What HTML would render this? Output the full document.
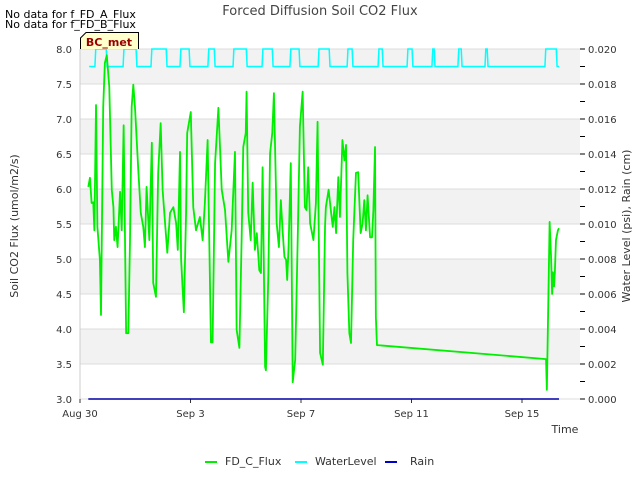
<!DOCTYPE html>
<html><head><meta charset="utf-8"><style>
body{margin:0;background:#fff;font-family:"Liberation Sans","DejaVu Sans",sans-serif}
svg text{font-family:"DejaVu Sans","Liberation Sans",sans-serif}
</style></head><body>
<svg id="c" width="640" height="480" xmlns="http://www.w3.org/2000/svg"></svg>
<script>
const fluxDays=[0.30,0.36,0.42,0.48,0.52,0.58,0.63,0.72,0.76,0.84,0.90,0.97,1.06,1.15,1.21,1.24,1.30,1.36,1.45,1.51,1.58,1.67,1.75,1.81,1.87,1.93,1.99,2.11,2.20,2.29,2.35,2.41,2.51,2.60,2.65,2.75,2.83,2.92,2.99,3.08,3.16,3.26,3.38,3.48,3.54,3.62,3.66,3.76,3.84,3.88,4.01,4.10,4.20,4.34,4.44,4.52,4.62,4.74,4.80,4.89,5.01,5.13,5.25,5.37,5.49,5.61,5.67,5.77,5.85,5.91,6.00,6.03,6.09,6.18,6.25,6.33,6.40,6.49,6.55,6.61,6.70,6.73,6.82,6.88,6.96,7.02,7.12,7.20,7.27,7.34,7.40,7.46,7.50,7.55,7.63,7.70,7.79,7.88,7.96,8.06,8.14,8.20,8.26,8.33,8.45,8.54,8.60,8.69,8.79,8.87,8.90,9.00,9.09,9.15,9.21,9.27,9.35,9.41,9.50,9.57,9.63,9.68,9.75,9.81,9.89,9.99,10.07,10.16,10.23,10.29,10.35,10.41,10.50,10.57,10.62,10.68,10.71,10.75,16.87,16.90,17.00,17.05,17.09,17.12,17.16,17.19,17.23,17.30,17.34];
const fluxValues=[6.03,6.16,5.80,5.81,5.41,7.20,5.46,4.99,4.20,7.17,7.80,7.91,7.46,5.99,5.74,5.27,5.46,5.17,5.96,5.41,6.91,3.94,3.94,5.27,7.17,7.49,7.17,6.27,5.66,5.46,5.17,6.03,5.27,6.66,4.66,4.46,6.23,6.94,5.99,5.51,5.09,5.66,5.74,5.51,5.13,6.53,4.99,4.24,5.66,6.80,7.10,5.74,5.41,5.60,5.27,5.80,6.70,3.81,3.81,6.37,7.16,5.99,5.70,4.96,5.41,6.53,3.99,3.73,5.27,6.60,6.80,7.39,5.66,5.27,6.09,5.13,5.37,4.84,4.80,6.31,3.46,3.41,4.80,6.51,6.80,7.37,5.51,5.17,5.84,5.37,5.03,4.99,4.70,5.17,6.37,3.24,3.56,5.27,6.89,7.39,5.74,5.70,6.31,5.51,5.27,5.80,6.96,3.66,3.49,5.46,5.74,5.99,5.66,5.46,5.74,5.37,6.17,5.60,6.70,6.41,6.63,4.80,3.94,3.80,5.27,6.23,6.24,5.37,5.51,5.84,5.41,5.91,5.31,5.31,5.70,6.60,4.17,3.77,3.57,3.13,5.53,5.05,4.50,4.81,4.61,4.81,5.27,5.41,5.44];
const waterHighStart=[0.54,1.56,2.57,3.62,4.63,5.54,6.59,7.60,8.62,9.67,10.79,11.84,12.74,13.68,14.66,16.83];
const waterHighEnd=[0.98,2.06,3.15,3.98,4.89,6.05,6.99,7.96,9.05,9.88,10.97,12.05,12.85,13.83,14.77,17.27];
const waterLow=0.019, waterHigh=0.020, waterStart=0.33, waterEnd=17.34;
const rainDays=[0.30,17.34], rainValues=[0,0];
const leftTicks=[3.0,3.5,4.0,4.5,5.0,5.5,6.0,6.5,7.0,7.5,8.0];
const rightTicks=[0,0.002,0.004,0.006,0.008,0.010,0.012,0.014,0.016,0.018,0.020];
const xTickDays=[0,4,8,12,16];
const xTickLabels=["Aug 30","Sep 3","Sep 7","Sep 11","Sep 15"];

const L=80,R=580,T=49,B=399;
const xs=d=>L+d*27.625;
const yl=v=>B-(v-3)/5*(B-T);
const yr=v=>B-v/0.02*(B-T);
const svg=document.getElementById('c');
const NS='http://www.w3.org/2000/svg';
function mk(tag,attrs,parent){const e=document.createElementNS(NS,tag);for(const k in attrs)e.setAttribute(k,attrs[k]);(parent||svg).appendChild(e);return e;}

// bands
for(let i=0;i<leftTicks.length-1;i++){
  const v0=leftTicks[i],v1=leftTicks[i+1];
  const r=mk('rect',{x:L,y:yl(v1),width:R-L,height:yl(v0)-yl(v1),fill:(i%2==1)?'#f2f2f2':'#ffffff'});
  
  
}
leftTicks.forEach(v=>{
  const g=mk('line',{x1:L,x2:R,y1:yl(v),y2:yl(v),stroke:'#dcdcdc','stroke-width':1});
  
  
  const t=mk('text',{x:L-8,y:yl(v)+4,'text-anchor':'end','font-size':10,fill:'#333'});
  t.textContent=v.toFixed(1);
  
  
});
mk('line',{x1:L,x2:L,y1:T,y2:B,stroke:'#ccc'});
rightTicks.forEach(v=>{
  const tk=mk('line',{x1:R,x2:R+5,y1:yr(v),y2:yr(v),stroke:'#000'});
  
  
  const t=mk('text',{x:R+8,y:yr(v)+4,'font-size':10,fill:'#333'});
  t.textContent=v.toFixed(3);
  
  
});
for(let i=0;i<rightTicks.length-1;i++){
  const v=(rightTicks[i]+rightTicks[i+1])/2;
  const tk=mk('line',{x1:R,x2:R+5,y1:yr(v),y2:yr(v),stroke:'#000'});
  
  
}
xTickDays.forEach((d,i)=>{
  const tk=mk('line',{x1:xs(d),x2:xs(d),y1:B,y2:B+4,stroke:'#333'});
  
  
  const t=mk('text',{x:xs(d),y:B+18,'text-anchor':'middle','font-size':10,fill:'#333'});
  t.textContent=xTickLabels[i];
  
  
});

// water level
let wp=[[waterStart,waterLow]];
waterHighStart.forEach((s,i)=>{const e=waterHighEnd[i];wp.push([s,waterLow],[s+0.03,waterHigh],[e-0.03,waterHigh],[e,waterLow]);});
wp.push([waterEnd,waterLow]);
const wl=mk('polyline',{points:wp.map(p=>xs(p[0])+','+yr(p[1])).join(' '),fill:'none',stroke:'#00ffff','stroke-width':1.5});



// rain
const rl=mk('polyline',{points:rainDays.map((d,i)=>xs(d)+','+yr(rainValues[i])).join(' '),fill:'none',stroke:'#0000aa','stroke-width':1.5});



// flux
const fl=mk('polyline',{points:fluxDays.map((d,i)=>xs(d)+','+yl(fluxValues[i])).join(' '),fill:'none',stroke:'#00ee00','stroke-width':1.8,'stroke-linejoin':'round'});


</script>
<svg width="640" height="480" style="position:absolute;left:0;top:0" xmlns="http://www.w3.org/2000/svg">
<text x="320" y="15" text-anchor="middle" font-size="13" fill="#444">Forced Diffusion Soil CO2 Flux</text>
<text x="5" y="18" font-size="11" fill="#000">No data for f_FD_A_Flux</text>
<text x="5" y="28" font-size="11" fill="#000">No data for f_FD_B_Flux</text>
<g>
<path d="M80.5 49 L80.5 38 L86 32.5 L138.5 32.5 L138.5 49" fill="#ffffcc" stroke="#000"/>
<text x="109" y="46" text-anchor="middle" font-size="11" font-weight="bold" fill="#990000">BC_met</text>
</g>
<text transform="translate(18,226) rotate(-90)" text-anchor="middle" font-size="11" fill="#333">Soil CO2 Flux (umol/m2/s)</text>
<text transform="translate(630,226) rotate(-90)" text-anchor="middle" font-size="11" fill="#333">Water Level (psi), Rain (cm)</text>
<text x="565" y="433" text-anchor="middle" font-size="11" fill="#333">Time</text>
<g>
<g><line x1="205" x2="217" y1="462" y2="462" stroke="#00ee00" stroke-width="2"/><text x="225" y="465" font-size="11" fill="#333">FD_C_Flux</text></g>
<g><line x1="295" x2="307" y1="462" y2="462" stroke="#00ffff" stroke-width="2"/><text x="315" y="465" font-size="11" fill="#333">WaterLevel</text></g>
<g><line x1="385" x2="397" y1="462" y2="462" stroke="#0000cc" stroke-width="2"/><text x="410" y="465" font-size="11" fill="#333">Rain</text></g>
</g>
</svg>
</body></html>
